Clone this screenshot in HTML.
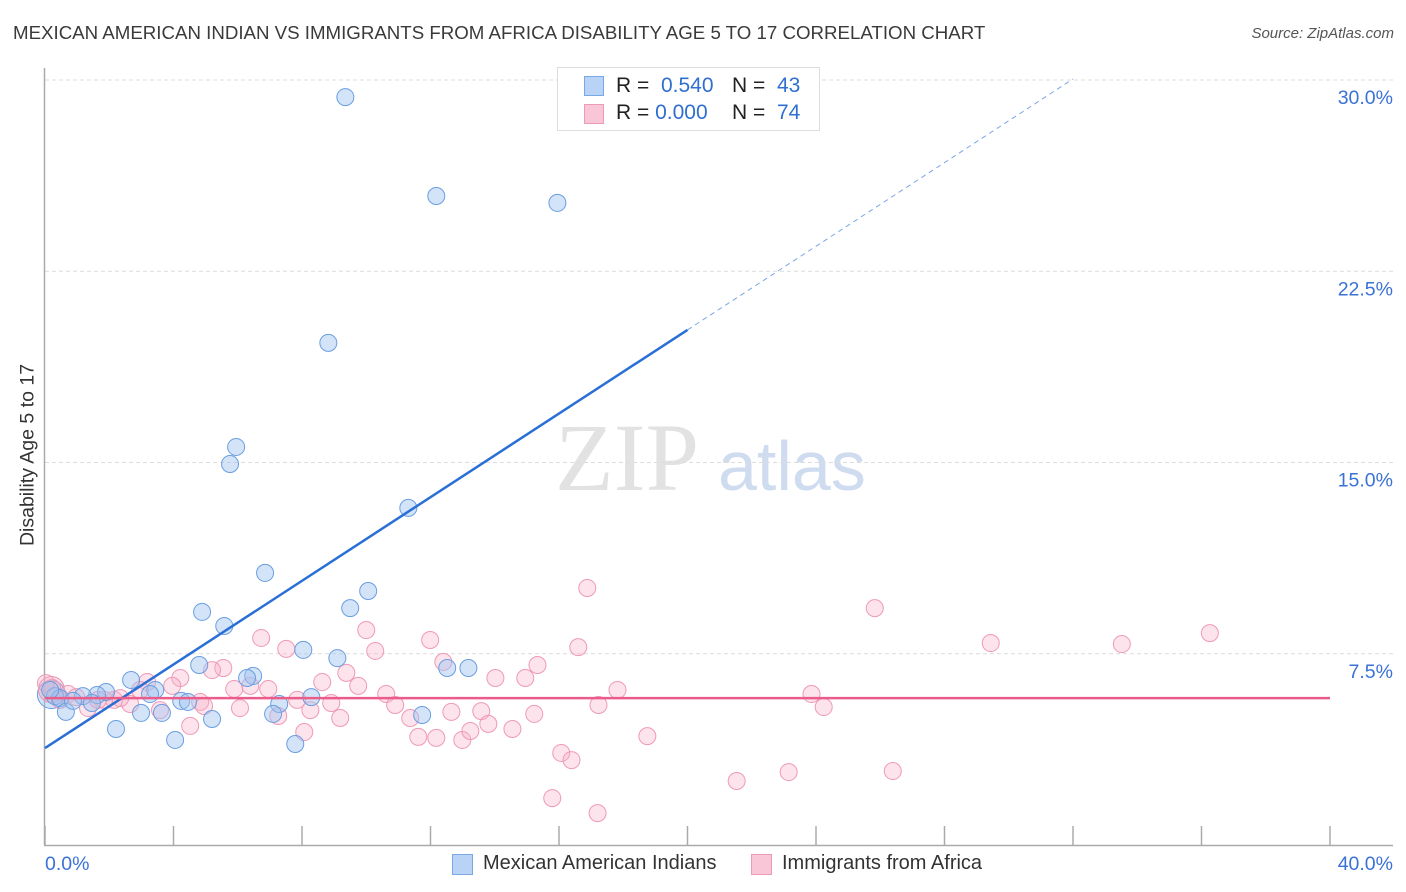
<!DOCTYPE html>
<html><head><meta charset="utf-8">
<style>
body{margin:0;background:#fff;font-family:"Liberation Sans",sans-serif;}
#wrap{position:relative;width:1406px;height:892px;overflow:hidden;}
.t{position:absolute;white-space:nowrap;}
</style></head>
<body>
<div id="wrap">
<div class="t" style="left:13px;top:22px;font-size:18.7px;color:#3a3a3a;">MEXICAN AMERICAN INDIAN VS IMMIGRANTS FROM AFRICA DISABILITY AGE 5 TO 17 CORRELATION CHART</div>
<div class="t" style="right:12px;top:25px;font-size:15px;color:#555;font-style:italic;">Source: ZipAtlas.com</div>
<div class="t" style="left:28px;top:455px;font-size:19.5px;color:#333;transform:translate(-50%,-50%) rotate(-90deg);">Disability Age 5 to 17</div>
<svg id="plot" width="1406" height="892" style="position:absolute;left:0;top:0"></svg>
<div style="position:absolute;left:557px;top:67px;width:261px;height:62px;border:1px solid #ddd;background:#fff;font-size:21px;color:#222;">
 <div style="position:absolute;left:26px;top:8px;width:18px;height:18px;background:#b8d3f5;border:1px solid #7aa8e6;"></div>
 <div class="t" style="left:58px;top:6px;">R = <span style="color:#2f6fd0">&nbsp;0.540</span></div>
 <div class="t" style="left:174px;top:6px;">N = <span style="color:#2f6fd0">&nbsp;43</span></div>
 <div style="position:absolute;left:26px;top:36px;width:18px;height:18px;background:#f8c6d6;border:1px solid #ee9ab6;"></div>
 <div class="t" style="left:58px;top:33px;">R = <span style="color:#2f6fd0">0.000</span></div>
 <div class="t" style="left:174px;top:33px;">N = <span style="color:#2f6fd0">&nbsp;74</span></div>
</div>
<div style="position:absolute;left:452px;top:854px;">
 <div style="position:absolute;left:0;top:0;width:19px;height:19px;background:#b8d3f5;border:1px solid #7aa8e6;"></div>
 <div class="t" style="left:31px;top:-2px;font-size:20px;color:#333;">Mexican American Indians</div>
</div>
<div style="position:absolute;left:751px;top:854px;">
 <div style="position:absolute;left:0;top:0;width:19px;height:19px;background:#f8c6d6;border:1px solid #ee9ab6;"></div>
 <div class="t" style="left:31px;top:-2px;font-size:20px;color:#333;">Immigrants from Africa</div>
</div>
</div>
<script>
const yTicks=[7.5,15,22.5,30];
const yTickLabels=["7.5%","15.0%","22.5%","30.0%"];
const xTicks=[0,4,8,12,16,20,24,28,32,36,40];
const blueX=[9.35,12.18,15.95,8.82,5.95,5.76,11.31,6.85,4.89,5.58,9.50,10.06,8.04,9.10,12.52,13.18,4.80,6.48,6.29,2.68,3.43,1.90,1.62,1.18,0.31,0.47,0.65,1.46,2.99,3.64,4.24,4.45,5.20,2.21,4.05,7.79,7.29,7.10,8.29,11.74,0.16,0.87,3.27];
const blueY=[29.33,25.45,25.18,19.69,15.61,14.94,13.22,10.67,9.14,8.59,9.29,9.96,7.65,7.33,6.94,6.94,7.06,6.63,6.55,6.47,6.08,6.00,5.88,5.84,5.84,5.76,5.22,5.57,5.18,5.18,5.65,5.61,4.94,4.55,4.12,3.96,5.53,5.14,5.80,5.10,6.08,5.65,5.92];
const pinkX=[16.88,25.83,36.26,29.44,33.52,10.00,11.99,6.73,10.28,7.51,16.60,12.40,15.33,9.38,14.95,14.02,5.55,5.20,4.21,3.18,3.96,5.89,6.95,8.63,9.75,10.62,17.82,23.86,24.24,17.23,7.85,8.91,10.90,8.26,7.26,6.07,4.83,3.58,2.65,2.15,1.34,0.72,0.22,0.03,0.97,1.84,2.96,11.37,12.65,13.58,15.23,9.19,8.07,4.52,11.62,12.18,12.99,13.24,13.80,14.55,18.75,16.07,16.39,15.79,17.20,21.53,23.15,26.39,2.34,1.65,0.47,4.95,6.39];
const pinkY=[10.08,9.29,8.31,7.92,7.88,8.43,8.04,8.12,7.61,7.69,7.76,7.18,7.06,6.75,6.55,6.55,6.94,6.86,6.55,6.39,6.24,6.12,6.12,6.39,6.24,5.92,6.08,5.92,5.41,5.49,5.69,5.57,5.49,5.29,5.06,5.37,5.61,5.29,5.53,5.69,5.37,5.92,6.16,6.35,5.80,5.69,6.08,4.98,5.22,5.25,5.14,4.98,4.43,4.67,4.24,4.20,4.12,4.47,4.75,4.55,4.27,3.61,3.33,1.84,1.25,2.51,2.86,2.90,5.76,5.69,5.69,5.45,6.24];
const blueFit=[3.8,0.82];
const pinkFit=[5.76,0];
const sx=v=>45+v*32.125, sy=v=>845-v*25.5;
const svg=document.getElementById('plot');const NS='http://www.w3.org/2000/svg';
function mk(t,a,p){const e=document.createElementNS(NS,t);for(const k in a)e.setAttribute(k,a[k]);(p||svg).appendChild(e);return e;}
let w=mk('text',{x:555,y:490,'font-size':96,'font-family':'Liberation Serif,serif',fill:'#e2e2e2'});w.textContent='ZIP';


let w2=mk('text',{x:718,y:490,'font-size':70,'font-family':'Liberation Sans,sans-serif',fill:'#cfdcf0'});w2.textContent='atlas';


yTicks.forEach((v,i)=>{
 const g=mk('line',{x1:45,x2:1393,y1:sy(v),y2:sy(v),stroke:'#dcdcdc','stroke-dasharray':'4,3'});
 
 
 const t=mk('text',{x:1393,y:sy(v)+24,'text-anchor':'end','font-size':19.5,fill:'#3a72d6','font-family':'Liberation Sans,sans-serif'});t.textContent=yTickLabels[i];
 
 
});
mk('line',{x1:44.5,x2:44.5,y1:68,y2:845,stroke:'#aaa','stroke-width':1.5});
mk('line',{x1:44,x2:1393,y1:845.5,y2:845.5,stroke:'#aaa','stroke-width':1.5});
xTicks.forEach(v=>{const l=mk('line',{x1:sx(v),x2:sx(v),y1:826,y2:845,stroke:'#aaa','stroke-width':1.5});
 
 });
const xl0=mk('text',{x:45,y:870,'font-size':19.5,fill:'#3a72d6','font-family':'Liberation Sans,sans-serif'});xl0.textContent='0.0%';


const xl1=mk('text',{x:1393,y:870,'text-anchor':'end','font-size':19.5,fill:'#3a72d6','font-family':'Liberation Sans,sans-serif'});xl1.textContent='40.0%';


[[0.2,5.9,14,'b'],[0.2,6.1,13,'p']].forEach(d=>{const c=mk('circle',{cx:sx(d[0]),cy:sy(d[1]),r:d[2],fill:d[3]=='b'?'rgba(160,195,240,0.45)':'rgba(244,170,195,0.35)',stroke:d[3]=='b'?'#6a9ee0':'#ee8fb0','stroke-width':1});
 
 });
pinkX.forEach((x,i)=>{const c=mk('circle',{cx:sx(x),cy:sy(pinkY[i]),r:8.5,fill:'rgba(246,175,200,0.35)',stroke:'#ef9ab7','stroke-width':1});
 
 });
blueX.forEach((x,i)=>{const c=mk('circle',{cx:sx(x),cy:sy(blueY[i]),r:8.5,fill:'rgba(160,195,240,0.45)',stroke:'#6a9ee0','stroke-width':1});
 
 });
const f=x=>blueFit[0]+blueFit[1]*x;
const bl=mk('line',{x1:sx(0),y1:sy(f(0)),x2:sx(20),y2:sy(f(20)),stroke:'#2a6fd6','stroke-width':2.5});


const bd=mk('line',{x1:sx(20),y1:sy(f(20)),x2:sx(32),y2:sy(f(32)),stroke:'#7aa6e6','stroke-width':1,'stroke-dasharray':'5,4'});


const pl=mk('line',{x1:sx(0),y1:sy(pinkFit[0]),x2:sx(40),y2:sy(pinkFit[0]+pinkFit[1]*40),stroke:'#ec5c8a','stroke-width':2.5});


</script>
</body></html>
